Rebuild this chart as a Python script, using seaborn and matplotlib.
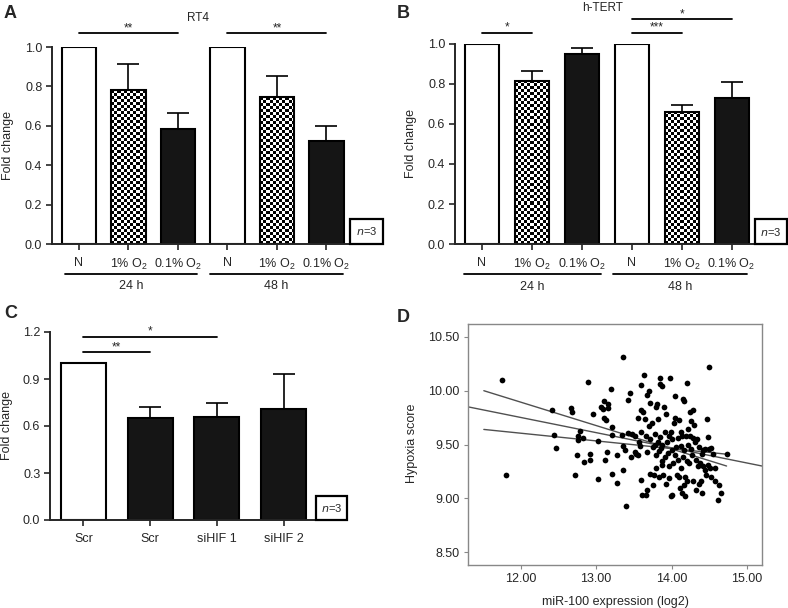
import numpy as np
import pandas as pd
import matplotlib
matplotlib.use("Agg")
import matplotlib.pyplot as plt
from matplotlib.patches import Rectangle
import seaborn as sns

# ---- panel A / B data (fold change, mean + upper SEM) ----
ab_labels = ['N', '1% O$_2$', '0.1% O$_2$', 'N', '1% O$_2$', '0.1% O$_2$']
ab_fill = ['open', 'check', 'solid', 'open', 'check', 'solid']
rt4_mean = [1.0, 0.78, 0.585, 1.0, 0.745, 0.525]
rt4_err = [0.0, 0.135, 0.08, 0.0, 0.11, 0.075]
htert_mean = [1.0, 0.815, 0.95, 1.0, 0.66, 0.73]
htert_err = [0.0, 0.052, 0.028, 0.0, 0.036, 0.078]
time_groups = ['24 h', '48 h']

# ---- panel C data ----
c_labels = ['Scr', 'Scr', 'siHIF 1', 'siHIF 2']
c_fill = ['open', 'solid', 'solid', 'solid']
c_mean = [1.0, 0.65, 0.66, 0.71]
c_err = [0.0, 0.07, 0.09, 0.225]

# ---- panel D data ----
mir100 = [11.75, 11.80, 12.41, 12.44, 12.47, 12.66, 12.68, 12.72, 12.75, 12.76,
          12.76, 12.79, 12.82, 12.84, 12.89, 12.92, 12.92, 12.96, 13.02, 13.02,
          13.07, 13.09, 13.11, 13.11, 13.13, 13.12, 13.15, 13.16, 13.16, 13.20,
          13.21, 13.21, 13.21, 13.27, 13.27, 13.34, 13.36, 13.36, 13.36, 13.38,
          13.40, 13.42, 13.42, 13.45, 13.46, 13.48, 13.51, 13.52, 13.53, 13.55,
          13.56, 13.57, 13.58, 13.59, 13.60, 13.60, 13.60, 13.61, 13.62, 13.63,
          13.65, 13.66, 13.66, 13.67, 13.68, 13.68, 13.70, 13.70, 13.71, 13.71,
          13.72, 13.74, 13.75, 13.76, 13.77, 13.78, 13.78, 13.80, 13.80, 13.80,
          13.81, 13.82, 13.82, 13.83, 13.84, 13.85, 13.85, 13.85, 13.86, 13.87,
          13.87, 13.88, 13.88, 13.89, 13.90, 13.91, 13.91, 13.92, 13.93, 13.94,
          13.95, 13.96, 13.96, 13.97, 13.98, 13.99, 13.99, 14.00, 14.00, 14.01,
          14.02, 14.03, 14.04, 14.05, 14.05, 14.06, 14.07, 14.08, 14.09, 14.10,
          14.10, 14.11, 14.12, 14.12, 14.13, 14.14, 14.14, 14.15, 14.15, 14.16,
          14.17, 14.17, 14.18, 14.18, 14.19, 14.20, 14.20, 14.21, 14.22, 14.22,
          14.23, 14.24, 14.25, 14.26, 14.26, 14.27, 14.28, 14.28, 14.29, 14.30,
          14.31, 14.32, 14.33, 14.34, 14.35, 14.36, 14.37, 14.38, 14.39, 14.40,
          14.41, 14.42, 14.42, 14.44, 14.45, 14.46, 14.47, 14.48, 14.48, 14.50,
          14.50, 14.51, 14.52, 14.53, 14.55, 14.57, 14.58, 14.61, 14.63, 14.65,
          14.74]
hypoxia = [10.10, 9.22, 9.82, 9.59, 9.47, 9.84, 9.80, 9.22, 9.40, 9.58,
           9.54, 9.63, 9.56, 9.34, 10.08, 9.41, 9.36, 9.78, 9.53, 9.18,
           9.85, 9.83, 9.90, 9.75, 9.73, 9.36, 9.43, 9.88, 9.84, 10.02,
           9.66, 9.59, 9.23, 9.40, 9.14, 9.59, 10.31, 9.49, 9.26, 9.45,
           8.93, 9.91, 9.61, 9.98, 9.38, 9.60, 9.43, 9.58, 9.41, 9.40,
           9.75, 9.52, 9.49, 9.82, 10.05, 9.62, 9.17, 9.03, 9.80, 10.15,
           9.74, 9.58, 9.03, 9.08, 9.96, 9.43, 10.00, 9.67, 9.55, 9.23,
           9.89, 9.70, 9.48, 9.12, 9.22, 9.60, 9.50, 9.85, 9.40, 9.28,
           9.88, 9.74, 9.52, 9.44, 9.20, 10.12, 10.06, 9.57, 9.47, 10.04,
           9.35, 9.50, 9.31, 9.22, 9.85, 9.62, 9.38, 9.13, 9.78, 9.52,
           9.42, 9.58, 9.30, 9.19, 10.12, 9.62, 9.02, 9.03, 9.45, 9.55,
           9.33, 9.70, 9.40, 9.95, 9.75, 9.48, 9.22, 9.36, 9.56, 9.73,
           9.20, 9.10, 9.62, 9.49, 9.28, 9.58, 9.05, 9.92, 9.38, 9.12,
           9.90, 9.45, 9.20, 9.02, 9.58, 9.35, 9.16, 10.07, 9.64, 9.50,
           9.33, 9.58, 9.80, 9.72, 9.46, 9.40, 9.82, 9.56, 9.16, 9.68,
           9.52, 9.08, 9.36, 9.55, 9.30, 9.13, 9.48, 9.33, 9.16, 9.41,
           9.05, 9.45, 9.30, 9.46, 9.26, 9.22, 9.74, 9.57, 9.31, 10.22,
           9.46, 9.28, 9.20, 9.47, 9.41, 9.16, 9.28, 8.98, 9.12, 9.05,
           9.41]
# fit lines as drawn in the figure (start x, start y, end x, end y)
fit_x0 = [11.51, 11.30, 11.51]
fit_y0 = [10.00, 9.85, 9.64]
fit_x1 = [14.73, 15.20, 14.73]
fit_y1 = [9.30, 9.30, 9.41]

sns.set_style("ticks")
plt.rcParams['font.family'] = ['Liberation Sans', 'DejaVu Sans']
plt.rcParams['mathtext.default'] = 'regular'

W, H = 788, 608
FS = 9
fig = plt.figure(figsize=(W / 100, H / 100), dpi=100)


def px_axes(x0, y0, x1, y1):
    return fig.add_axes([x0 / W, 1 - y1 / H, (x1 - x0) / W, (y1 - y0) / H])


fill_color = {'open': 'white', 'check': 'white', 'solid': '#151515'}


def checker_fill(ax, p, cell=3.0):
    # small black/white checkerboard inside the bar, like the original print
    bb = p.get_window_extent()
    nx = max(1, int(round(bb.width / cell)))
    ny = max(1, int(round(bb.height / cell)))
    board = np.add.outer(np.arange(ny), np.arange(nx)) % 2
    x0, w, h = p.get_x(), p.get_width(), p.get_height()
    im = ax.imshow(board, cmap='gray', extent=(x0, x0 + w, 0, h), origin='lower',
                   aspect='auto', interpolation='nearest', zorder=0.9)
    im.set_clip_path(p)
    p.set_facecolor('none')


def bar_panel(ax, labels, fills, means, errs, width, ymax, yticks, xlim):
    keys = [f'{i}' for i in range(len(means))]
    df = pd.DataFrame({'key': keys, 'val': means})
    pal = {k: fill_color[f] for k, f in zip(keys, fills)}
    sns.barplot(data=df, x='key', y='val', hue='key', palette=pal, legend=False,
                width=width, edgecolor='black', linewidth=1.5, saturation=1, ax=ax)
    pos = np.arange(len(means))
    m = np.array(errs) > 0
    e = np.array(errs)[m]
    ax.errorbar(pos[m], np.array(means)[m], yerr=[np.zeros_like(e), e], fmt='none',
                ecolor='black', elinewidth=1.2, capsize=8, capthick=1.2, zorder=3)
    ax.set_xlim(*xlim)
    ax.set_ylim(0, ymax)
    for p, f in zip(ax.patches, fills):
        if f == 'check':
            checker_fill(ax, p)
    ax.set_xlim(*xlim)
    ax.set_ylim(0, ymax)
    ax.set_yticks(yticks)
    ax.set_yticklabels([f'{t:.1f}' for t in yticks])
    ax.set_xticks(pos)
    ax.set_xticklabels(labels)
    ax.set_xlabel('')
    ax.set_ylabel('Fold change', fontsize=FS)
    for s in ['top', 'right']:
        ax.spines[s].set_visible(False)
    for s in ['left', 'bottom']:
        ax.spines[s].set_linewidth(1.4)
    ax.tick_params(labelsize=FS, length=4, width=1.2, pad=3)
    ax.tick_params(axis='x', pad=5)


def sig(ax, x0, x1, y, stars):
    ax.plot([x0, x1], [y, y], color='black', lw=1.3, clip_on=False)
    ax.text((x0 + x1) / 2, y - 0.005, stars, ha='center', va='bottom', fontsize=8.5,
            clip_on=False)


def n_box(ax, x, y, w, h):
    ax.add_patch(Rectangle((x, y), w, h, transform=ax.transAxes, facecolor='white',
                           edgecolor='black', lw=1.6, clip_on=False, zorder=5))
    ax.text(x + w / 2, y + h / 2, r'$\mathit{n}$=3', transform=ax.transAxes,
            ha='center', va='center', fontsize=8, zorder=6)


def group_lines(ax, spans):
    for (x0, x1), name in zip(spans, time_groups):
        ax.plot([x0, x1], [-0.152, -0.152], color='black', lw=1.3,
                transform=ax.get_xaxis_transform(), clip_on=False)
        ax.text((x0 + x1) / 2, -0.215, name, ha='center', va='center', fontsize=FS,
                transform=ax.get_xaxis_transform())


# ---- A ----
axA = px_axes(52, 47, 350, 244)
bar_panel(axA, ab_labels, ab_fill, rt4_mean, rt4_err, 0.69, 1.0,
          [0, 0.2, 0.4, 0.6, 0.8, 1.0], (-0.545, 5.475))
axA.yaxis.set_label_coords(-0.128, 0.5)
sig(axA, 0, 2, 1.071, '**')
sig(axA, 3, 5, 1.071, '**')
axA.text(2.4, 1.147, 'RT4', ha='center', va='center', fontsize=8.5)
group_lines(axA, [(-0.28, 2.38), (2.65, 5.33)])
n_box(axA, 1.0, 0.0, 0.111, 0.127)

# ---- B ----
axB = px_axes(455, 44, 755, 244)
bar_panel(axB, ab_labels, ab_fill, htert_mean, htert_err, 0.68, 1.0,
          [0, 0.2, 0.4, 0.6, 0.8, 1.0], (-0.54, 5.47))
axB.yaxis.set_label_coords(-0.127, 0.5)
sig(axB, 0, 1, 1.057, '*')
sig(axB, 3, 4, 1.057, '***')
sig(axB, 3, 5, 1.125, '*')
axB.text(2.42, 1.18, 'h-TERT', ha='center', va='center', fontsize=8.5)
group_lines(axB, [(-0.35, 2.38), (2.63, 5.31)])
n_box(axB, 1.0, 0.0, 0.107, 0.125)

# ---- C ----
axC = px_axes(50, 332, 347, 520)
bar_panel(axC, c_labels, c_fill, c_mean, c_err, 0.675, 1.2,
          [0, 0.3, 0.6, 0.9, 1.2], (-0.5, 3.95))
axC.yaxis.set_label_coords(-0.125, 0.5)
sig(axC, 0, 1, 1.07, '**')
sig(axC, 0, 2, 1.17, '*')
n_box(axC, 0.896, 0.0, 0.104, 0.128)

# ---- D ----
axD = px_axes(468, 324, 762, 565)
sns.scatterplot(x=mir100, y=hypoxia, ax=axD, color='black', s=17, linewidth=0, zorder=3)
for x0, y0, x1, y1 in zip(fit_x0, fit_y0, fit_x1, fit_y1):
    axD.plot([x0, x1], [y0, y1], color='#505050', lw=1.0, zorder=2)
axD.set_xlim(11.30, 15.20)
axD.set_ylim(8.38, 10.62)
axD.set_xticks([12, 13, 14, 15])
axD.set_xticklabels(['12.00', '13.00', '14.00', '15.00'])
axD.set_yticks([8.5, 9.0, 9.5, 10.0, 10.5])
axD.set_yticklabels(['8.50', '9.00', '9.50', '10.00', '10.50'])
for s in axD.spines.values():
    s.set_color('#888888')
    s.set_linewidth(1.0)
axD.tick_params(labelsize=FS, length=3, width=0.8, color='#888888', pad=3)
axD.set_xlabel('miR-100 expression (log2)', fontsize=FS)
axD.set_ylabel('Hypoxia score', fontsize=FS)
axD.yaxis.set_label_coords(-0.17, 0.506)
axD.xaxis.set_label_coords(0.5, -0.128)

# panel letters
for letter, (x, y) in zip('ABCD', [(4, 14), (397, 14), (4, 314), (397, 318)]):
    fig.text(x / W, 1 - y / H, letter, fontsize=13, fontweight='bold', va='center')

fig.savefig('out.png', dpi=100)
